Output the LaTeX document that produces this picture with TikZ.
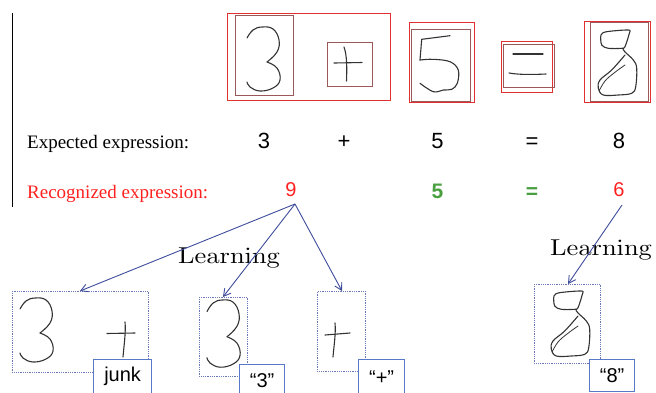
\documentclass[tikz,border=0pt]{standalone}
\usepackage{fontspec}
\usepackage{graphicx}
\newfontfamily\serifT{Liberation Serif}
\newfontfamily\sansA{Liberation Sans}
\font\learnfont=cmr10 at 23pt
\usetikzlibrary{arrows.meta}
\definecolor{redbox}{HTML}{E03030}
\definecolor{brownbox}{HTML}{9A5858}
\definecolor{ink}{HTML}{333333}
\definecolor{arrowblue}{HTML}{3E4C9C}
\definecolor{cropblue}{HTML}{6A78B8}
\definecolor{labelblue}{HTML}{5A78C8}
\definecolor{recred}{HTML}{FF2020}
\definecolor{recgreen}{HTML}{4AA040}
\tikzset{
  hand/.style={draw=ink, line width=1.1pt, line cap=round, line join=round},
  outerbox/.style={draw=redbox, line width=0.9pt},
  innerbox/.style={draw=brownbox, line width=0.9pt},
  cropbox/.style={draw=cropblue, densely dotted, line width=0.8pt, anchor=north west, inner sep=0pt},
  labelbox/.style={draw=labelblue, line width=1.2pt, fill=white, anchor=north west, inner sep=0pt, font=\sansA\fontsize{20}{24}\selectfont},
  learnarrow/.style={draw=arrowblue, line width=0.9pt, -{Straight Barb[length=7pt,width=8pt]}},
  lbltext/.style={font=\serifT\fontsize{19}{23}\selectfont, anchor=base west, inner sep=0pt},
  digit/.style={font=\sansA\fontsize{22}{26}\selectfont, anchor=base, inner sep=0pt},
  recdigit/.style={font=\sansA\fontsize{20}{24}\selectfont, anchor=base, inner sep=0pt, text=recred},
  okdigit/.style={font=\sansA\bfseries\fontsize{21}{25}\selectfont, anchor=base, inner sep=0pt, text=recgreen},
  learntext/.style={font=\learnfont, anchor=base west, inner sep=0pt},
  pics/threeglyph/.style={code={
    \draw[hand] plot[smooth, tension=0.7] coordinates {(0,11) (6,3) (15,0) (26,2) (32,13) (30,25) (20,35)};
    \draw[hand] plot[smooth, tension=0.7] coordinates {(20,35) (30,41) (33,53) (26,61) (13,64) (3,60) (0,55)};
  }},
  pics/eightglyph/.style={code={
    \draw[hand] plot[smooth cycle, tension=0.5] coordinates {(3.7,15) (3,5) (8.7,1.7) (30.3,0) (31.3,3.3) (27,16.7) (23.7,18.3) (10.3,18.3)};
    \draw[hand] plot[smooth, tension=0.6] coordinates {(25,19) (27,22) (35.3,30) (38.7,38.3) (37.7,56.7) (33.7,63.3) (20.3,65) (5.3,65) (0.3,58.3) (2,50) (13.7,40) (27,25)};
    \draw[hand, line width=0.8pt] plot[smooth, tension=0.6] coordinates {(1,61) (7,51) (16,43) (27,35)};
  }}
}
\begin{document}
\begin{tikzpicture}[x=1pt, y=-1pt]
\useasboundingbox (0,0) rectangle (656,392);
\clip (0,0) rectangle (656,392);

% left vertical rule
\coordinate (ruletop) at (12,13);
\coordinate (rulebot) at (12,207);
\draw[line width=1pt] (ruletop) -- (rulebot);

% top: segmented handwritten expression
\draw[outerbox] (227,13) rectangle (390,100);
\draw[innerbox] (235,15) rectangle (293,95);
\pic at (247,27) {threeglyph};
\draw[innerbox] (327,42) rectangle (372,86);
\draw[hand] (334,63) -- (362,62.5);
\draw[hand] (344,47) .. controls (347,55) and (347,68) .. (346.5,81);

\draw[outerbox] (409,22) rectangle (474,102);
\draw[innerbox] (411,29) rectangle (470,101);
\draw[hand] (450,35.7) -- (421.7,39.3) -- (420,60);
\draw[hand] plot[smooth, tension=0.6] coordinates {(420,60) (433.3,59.3) (450,61.7) (458.3,70) (457.3,83.3) (451.7,89.3) (443.3,90) (433.3,91.7) (420,83.3)};

\draw[outerbox] (501,41) rectangle (552,92);
\draw[innerbox] (503,44) rectangle (554,87);
\draw[hand] (513,54) -- (543,54);
\draw[hand] (509,73) .. controls (520,75) and (535,74.5) .. (546,74);

\draw[outerbox] (584,21) rectangle (650,102);
\draw[innerbox] (590,22) rectangle (648,101);
\pic at (598,30) {eightglyph};

% expression rows
\node[lbltext] (exp) at (27,148) {Expected expression:};
\node[digit] (e3) at (264,148) {3};
\node[digit] (eplus) at (344,148) {+};
\node[digit] (e5) at (437.5,148) {5};
\node[digit] (eeq) at (532,148) {=};
\node[digit] (e8) at (619,148) {8};

\node[lbltext, text=recred] (rec) at (27,198) {Recognized expression:};
\node[recdigit] (r9) at (291,196) {9};
\node[okdigit] (r5) at (437.5,198) {5};
\node[okdigit] (req) at (532,198) {=};
\node[recdigit] (r6) at (619,196) {6};

% learning labels
\node[learntext] (learn1) at (178,263.5) {\scalebox{1.15}[1]{Learning}};
\node[learntext] (learn2) at (550,255) {\scalebox{1.15}[1]{Learning}};

% crop boxes
\node[cropbox, minimum width=136, minimum height=81] (b1) at (12,291) {};
\pic at (20,298) {threeglyph};
\draw[hand] (107,333.5) -- (135,333);
\draw[hand] (125,322) .. controls (126,332) and (124,345) .. (123,357);

\node[cropbox, minimum width=48, minimum height=79] (b2) at (199,297) {};
\pic[yscale=1.05] at (207,300) {threeglyph};

\node[cropbox, minimum width=48, minimum height=80] (b3) at (317,291) {};
\draw[hand] (325,335) -- (350,333);
\draw[hand] (335,323) .. controls (336,333) and (334,345) .. (333,357);

\node[cropbox, minimum width=66, minimum height=79] (b8) at (534,284) {};
\pic at (551,291) {eightglyph};

% class labels
\node[labelbox, minimum width=58, minimum height=34] (ljunk) at (93,359) {junk};
\node[labelbox, minimum width=45, minimum height=33] (l3) at (239,364) {“3”};
\node[labelbox, minimum width=46, minimum height=36] (lplus) at (358,359) {“+”};
\node[labelbox, minimum width=45, minimum height=32] (l8) at (589,359) {“8”};

% learning arrows
\coordinate (s9) at (295,204);
\coordinate (s6) at (622,205);
\coordinate (t1) at (80,291);
\coordinate (t2) at (223,297);
\coordinate (t3) at (342,291);
\coordinate (t8) at (568,284);
\draw[learnarrow] (s9) -- (t1);
\draw[learnarrow] (s9) -- (t2);
\draw[learnarrow] (s9) -- (t3);
\draw[learnarrow] (s6) -- (t8);
\end{tikzpicture}
\end{document}
